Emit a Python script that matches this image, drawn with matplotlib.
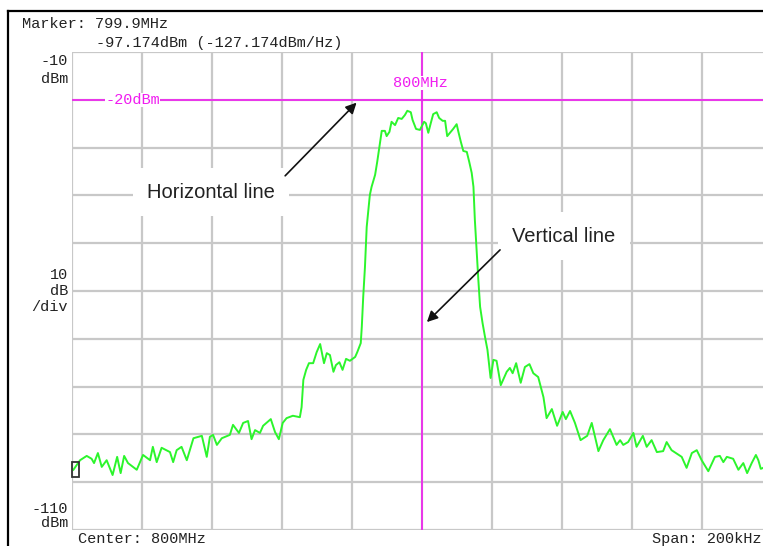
import matplotlib
matplotlib.use("Agg")
import matplotlib.pyplot as plt
from matplotlib.lines import Line2D
from matplotlib.patches import Rectangle

# ---- data (offset from 800 MHz centre in kHz, level in dBm) ----
freq_khz = [-99.6, -97.7, -95.8, -94.4, -93.7, -92.6, -91.5, -90.1, -88.4, -87.1,
            -86.1, -85.1, -84.0, -81.5, -79.7, -77.7, -76.9, -75.8, -74.4, -72.0,
            -71.1, -70.1, -68.7, -67.2, -65.3, -62.9, -61.5, -60.6, -59.7, -58.6,
            -57.2, -54.9, -54.0, -52.3, -51.1, -49.7, -48.7, -47.7, -46.3, -45.4,
            -43.2, -42.0, -40.9, -39.8, -38.7, -36.9, -34.9, -34.4, -33.9, -33.1,
            -32.3, -31.1, -30.1, -29.1, -28.0, -27.2, -26.3, -25.3, -24.6, -23.6,
            -22.7, -21.7, -20.6, -19.1, -18.5, -17.5, -17.2, -16.8, -16.3, -15.8,
            -14.9, -14.4, -13.4, -12.8, -12.0, -11.5, -10.6, -10.1, -9.3, -8.7,
            -7.7, -6.8, -5.8, -4.9, -4.2, -3.2, -2.7, -1.7, -0.6, 0.6,
            1.1, 1.8, 2.5, 3.2, 4.2, 4.9, 5.9, 6.6, 7.2, 8.0,
            8.9, 9.9, 10.4, 11.1, 11.8, 12.8, 13.5, 14.2, 14.7, 15.1,
            15.6, 16.1, 16.6, 17.3, 18.0, 18.7, 19.6, 20.4, 21.3, 22.5,
            24.2, 25.1, 25.9, 26.9, 28.2, 29.4, 30.7, 31.8, 33.2, 34.7,
            35.6, 37.1, 38.6, 40.2, 41.1, 42.3, 43.7, 45.3, 47.2, 48.5,
            50.4, 51.8, 53.7, 55.6, 56.6, 57.5, 58.9, 60.4, 61.3, 63.1,
            64.2, 65.6, 67.1, 68.9, 69.9, 71.3, 74.2, 75.6, 77.1, 78.5,
            79.9, 81.8, 83.7, 85.1, 86.1, 87.1, 88.9, 90.4, 91.8, 92.9,
            94.2, 95.4, 96.1, 96.8, 97.5, 98.9, 100.0]
level_dbm = [-97.4, -95.4, -94.5, -95.1, -96.0, -93.9, -96.8, -95.4, -98.5, -94.7,
             -98.1, -94.5, -96.0, -97.4, -94.3, -95.4, -92.6, -95.8, -92.8, -93.7,
             -95.8, -93.3, -92.6, -95.4, -90.8, -90.3, -94.7, -90.5, -90.1, -92.2,
             -90.8, -90.1, -88.0, -89.7, -87.6, -87.2, -91.0, -89.1, -89.7, -88.2,
             -86.8, -89.5, -91.0, -87.6, -86.6, -86.1, -86.4, -84.3, -78.6, -76.5,
             -75.1, -75.1, -72.8, -71.1, -75.1, -73.0, -73.4, -76.9, -75.5, -74.9,
             -76.5, -74.2, -74.6, -73.8, -72.8, -70.9, -67.5, -61.3, -55.0, -46.6,
             -39.9, -38.2, -35.7, -33.0, -29.0, -26.5, -26.5, -27.6, -26.7, -24.6,
             -25.3, -23.8, -24.0, -23.2, -22.3, -22.6, -24.2, -26.1, -26.3, -24.6,
             -24.9, -26.9, -24.9, -23.0, -22.6, -23.8, -24.4, -24.4, -27.6, -26.9,
             -26.1, -25.1, -26.7, -28.8, -30.7, -30.9, -33.0, -35.3, -38.2, -45.1,
             -51.4, -57.7, -63.3, -66.7, -69.6, -72.3, -78.2, -74.4, -74.6, -79.7,
             -76.9, -76.1, -77.2, -75.1, -79.2, -75.9, -75.3, -77.2, -78.0, -82.2,
             -86.6, -84.7, -88.2, -85.3, -86.8, -85.1, -87.6, -91.2, -90.3, -87.6,
             -93.5, -91.2, -88.9, -92.2, -91.2, -92.2, -91.6, -89.7, -92.6, -90.3,
             -92.6, -91.2, -93.7, -93.5, -91.6, -93.3, -94.7, -97.0, -93.9, -93.3,
             -95.4, -97.7, -94.7, -94.5, -95.8, -94.7, -95.1, -97.4, -96.0, -98.1,
             -96.0, -94.3, -95.4, -97.2, -97.0, -95.8, -96.6]

x_ticks = [-100, -80, -60, -40, -20, 0, 20, 40, 60, 80, 100]
y_ticks = [-110, -100, -90, -80, -70, -60, -50, -40, -30, -20, -10]
ref_level = -20          # horizontal marker line (dBm)
marker_freq = 0          # vertical marker line (kHz offset)

W, H = 763, 546
fig = plt.figure(figsize=(W / 100, H / 100), dpi=100)
fig.patch.set_facecolor("white")

ax = fig.add_axes([72 / W, (H - 530) / H, 700 / W, 478 / H])
ax.set_xlim(-100, 100)
ax.set_ylim(-110, -10)
ax.set_xticks(x_ticks)
ax.set_yticks(y_ticks)
ax.tick_params(length=0, labelbottom=False, labelleft=False)
for s in ax.spines.values():
    s.set_visible(False)
ax.grid(True, color="#c8c8c8", lw=1.6)
ax.set_axisbelow(True)

magenta = "#f01cf0"
ax.axhline(ref_level, color=magenta, lw=1.2, zorder=2)
ax.axvline(marker_freq, color=magenta, lw=1.2, zorder=2)

ax.plot(freq_khz, level_dbm, color="#2cf52c", lw=1.4, zorder=3)

mono = ["Liberation Mono", "DejaVu Sans Mono"]
ax.text(-90.5, ref_level, "-20dBm", color=magenta, fontsize=11, family=mono,
        ha="left", va="center", zorder=4,
        bbox=dict(facecolor="white", edgecolor="none", pad=0))
ax.text(marker_freq - 0.6, -17.3, "800MHz", color=magenta, fontsize=11,
        family=mono, ha="center", va="baseline", zorder=4,
        bbox=dict(facecolor="white", edgecolor="none", pad=0))

# marker box at start of trace
fig.add_artist(Rectangle((72 / W, 1 - 477 / H), 7 / W, 15 / H, fill=False,
                         edgecolor="#333333", lw=1.3))

# annotations
sans = ["Liberation Sans", "DejaVu Sans"]
ax.text(-60.3, -39.3, "Horizontal line", fontsize=14.5, family=sans,
        color="#222222", ha="center", va="center", zorder=5,
        bbox=dict(boxstyle="square,pad=0.7", facecolor="white", edgecolor="none"))
ax.text(40.6, -48.5, "Vertical line", fontsize=14.5, family=sans,
        color="#222222", ha="center", va="center", zorder=5,
        bbox=dict(boxstyle="square,pad=0.7", facecolor="white", edgecolor="none"))
ax.annotate("", xy=(-18.7, -20.6), xytext=(-39.1, -35.9),
            arrowprops=dict(arrowstyle="-|>", color="#111111", lw=1.2,
                            mutation_scale=16, shrinkA=0, shrinkB=0), zorder=6)
ax.annotate("", xy=(1.4, -66.5), xytext=(22.3, -51.4),
            arrowprops=dict(arrowstyle="-|>", color="#111111", lw=1.2,
                            mutation_scale=16, shrinkA=0, shrinkB=0), zorder=6)

# figure texts (pixel positions)
def ftext(x, y, s, ha="left", **kw):
    fig.text(x / W, 1 - y / H, s, ha=ha, va="baseline", fontsize=11,
             family=mono, color="#222222", **kw)

ftext(22, 28, "Marker: 799.9MHz")
ftext(96, 47, "-97.174dBm (-127.174dBm/Hz)")
ftext(68, 65, "-10", ha="right")
ftext(68, 83, "dBm", ha="right")
ftext(68, 279, "10", ha="right")
ftext(68, 295, "dB", ha="right")
ftext(68, 311, "/div", ha="right")
ftext(68, 513, "-110", ha="right")
ftext(68, 527, "dBm", ha="right")
ftext(78, 543, "Center: 800MHz")
ftext(761, 543, "Span: 200kHz", ha="right")

# outer frame
fig.add_artist(Line2D([8 / W, 8 / W], [0, 1 - 11 / H], color="black", lw=1.6))
fig.add_artist(Line2D([8 / W, 1], [1 - 11 / H, 1 - 11 / H], color="black", lw=1.6))

fig.savefig("out.png", dpi=100)
